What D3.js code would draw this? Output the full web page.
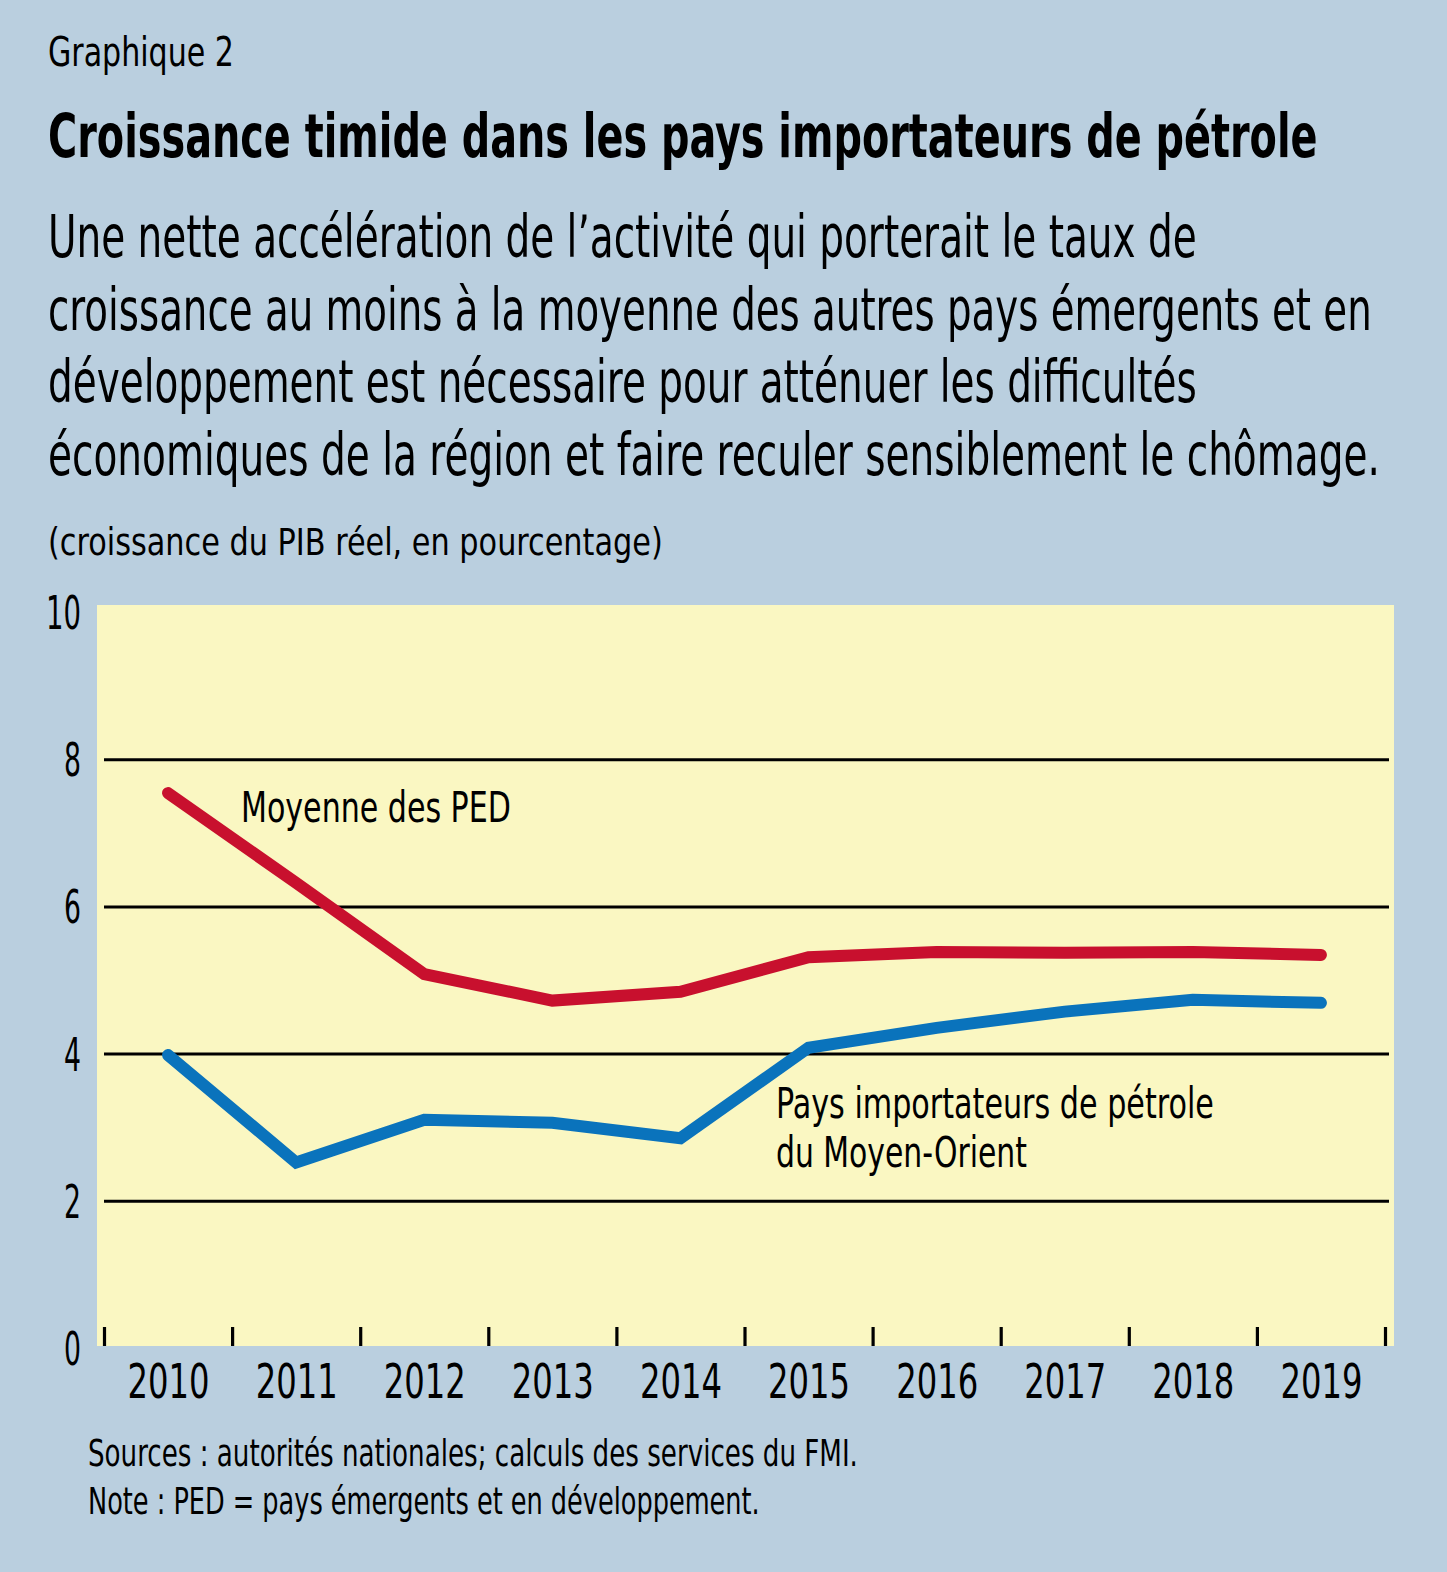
<!DOCTYPE html>
<html><head><meta charset="utf-8">
<script src="https://cdn.jsdelivr.net/npm/d3@7"></script>
<style>
html,body{margin:0;padding:0;background:#bacfdf;}
svg{display:block;}
text{font-family:"Liberation Sans Narrow","DejaVu Sans Condensed","Liberation Sans",Arial,sans-serif;fill:#000;}
</style></head>
<body>
<script>
// ---- data ----
const years = [2010, 2011, 2012, 2013, 2014, 2015, 2016, 2017, 2018, 2019];
const pedAverage   = [7.54, 6.32, 5.08, 4.72, 4.84, 5.31, 5.38, 5.37, 5.38, 5.34];
const oilImporters = [3.98, 2.52, 3.10, 3.06, 2.85, 4.08, 4.35, 4.57, 4.73, 4.69];
const yTicks = [0, 2, 4, 6, 8, 10];
const gridTicks = [2, 4, 6, 8];
const chartNumber = "Graphique 2";
const title = "Croissance timide dans les pays importateurs de pétrole";
const subtitleLines = [
  "Une nette accélération de l’activité qui porterait le taux de",
  "croissance au moins à la moyenne des autres pays émergents et en",
  "développement est nécessaire pour atténuer les difficultés",
  "économiques de la région et faire reculer sensiblement le chômage."
];
const unitLabel = "(croissance du PIB réel, en pourcentage)";
const pedLabel = ["Moyenne des PED"];
const oilLabel = ["Pays importateurs de pétrole", "du Moyen-Orient"];
const notes = [
  "Sources : autorités nationales; calculs des services du FMI.",
  "Note : PED = pays émergents et en développement."
];

const W = 1447, H = 1572;
const svg = d3.select("body").append("svg").attr("width", W).attr("height", H);
svg.append("rect").attr("width", W).attr("height", H).attr("fill", "#bacfdf");

// condensed text: font-size chosen so natural width equals target, then stretched vertically
function fit(s, x, y, size, target, weight) {
  const t = svg.append("text").attr("font-size", size)
    .attr("font-weight", weight || "normal").text(s);
  const w = t.node().getComputedTextLength();
  const f = size * target / w;
  t.attr("font-size", f).attr("transform", `translate(${x},${y}) scale(1,${w / target})`);
  return t;
}

// Header texts
fit(chartNumber, 48, 66, 40, 186);
fit(title, 48, 157, 60, 1270, "bold");
const subLens = [1149, 1324, 1149, 1332];
subtitleLines.forEach((s, i) => fit(s, 48, 257 + i * 72.6, 58, subLens[i]));
fit(unitLabel, 48, 555, 37, 615);

// Plot
const plot = {left: 97, top: 605, right: 1394, bottom: 1346};
svg.append("rect").attr("x", plot.left).attr("y", plot.top)
  .attr("width", plot.right - plot.left).attr("height", plot.bottom - plot.top)
  .attr("fill", "#faf7c2");

const x = d3.scaleLinear().domain([years[0] - 0.5, years[years.length - 1] + 0.5]).range([104, 1385]);
const y = d3.scaleLinear().domain([0, 10]).range([1348, 612]);

// gridlines
const grid = svg.append("g").attr("transform", `translate(104,0)`)
  .call(d3.axisLeft(y).tickValues(gridTicks).tickSize(-(1389 - 104)).tickFormat(""));
grid.select(".domain").remove();
grid.selectAll("line").attr("stroke", "#000").attr("stroke-width", 3);

// y labels
const yAx = svg.append("g").attr("transform", `translate(81,0)`)
  .call(d3.axisLeft(y).tickValues(yTicks).tickSize(0).tickPadding(0));
yAx.select(".domain").remove();
yAx.selectAll("text").attr("font-size", 46).attr("fill", "#000")
  .attr("dy", "0.36em").attr("font-family", null)
  .attr("textLength", d => d >= 10 ? 35 : 17).attr("lengthAdjust", "spacingAndGlyphs");

// x ticks at year boundaries
const bounds = d3.range(years.length + 1).map(i => years[0] - 0.5 + i);
const xt = svg.append("g").attr("transform", `translate(0,${plot.bottom})`)
  .call(d3.axisBottom(x).tickValues(bounds).tickSize(-19).tickFormat(""));
xt.select(".domain").remove();
xt.selectAll("line").attr("stroke", "#000").attr("stroke-width", 3.2);

// x labels
const xl = svg.append("g").attr("transform", `translate(0,1398)`)
  .call(d3.axisBottom(x).tickValues(years).tickSize(0).tickPadding(0).tickFormat(d3.format("d")));
xl.select(".domain").remove();
xl.selectAll("text").attr("font-size", 48).attr("fill", "#000").attr("dy", 0)
  .attr("font-family", null).attr("textLength", 82).attr("lengthAdjust", "spacingAndGlyphs");

// lines
const line = d3.line().x((d, i) => x(years[i])).y(d => y(d));
svg.append("path").datum(pedAverage).attr("d", line)
  .attr("fill", "none").attr("stroke", "#c8102e").attr("stroke-width", 12)
  .attr("stroke-linecap", "round").attr("stroke-linejoin", "miter");
svg.append("path").datum(oilImporters).attr("d", line)
  .attr("fill", "none").attr("stroke", "#0a73bc").attr("stroke-width", 12)
  .attr("stroke-linecap", "round").attr("stroke-linejoin", "miter");

// series labels
fit(pedLabel[0], 241, 822, 43, 270);
fit(oilLabel[0], 776, 1118, 43, 438);
fit(oilLabel[1], 776, 1167, 43, 251);

// notes
fit(notes[0], 88, 1466, 38, 770);
fit(notes[1], 88, 1514, 38, 672);
</script>
</body></html>
